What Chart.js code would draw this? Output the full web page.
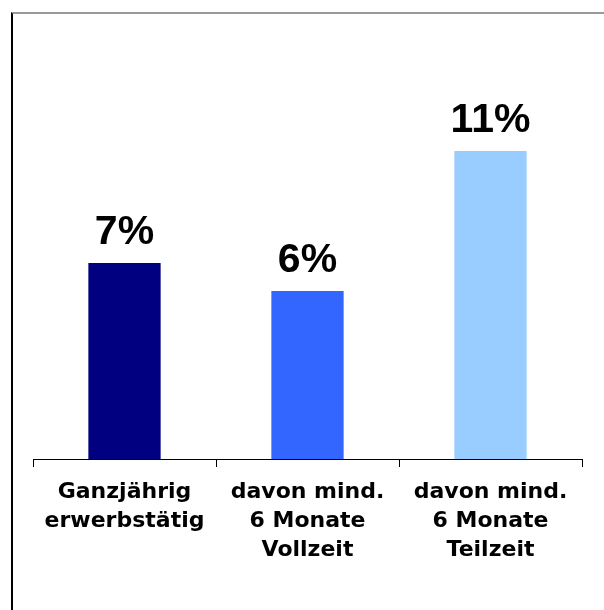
<!DOCTYPE html>
<html>
<head>
<meta charset="utf-8">
<script src="https://cdn.jsdelivr.net/npm/chart.js@4/dist/chart.umd.min.js"></script>
<style>
  body { margin: 0; background: #fff; }
  #wrap { position: relative; width: 604px; height: 610px; overflow: hidden; }
  #frame {
    position: absolute; left: 11px; top: 12px; width: 700px; height: 700px;
    border-top: 2px solid #999; border-left: 2px solid #000;
  }
  canvas { position: absolute; left: 0; top: 0; }
</style>
</head>
<body>
<div id="wrap">
  <div id="frame"></div>
  <canvas id="chart" width="604" height="610"></canvas>
</div>
<script>
const categories = [
  ["Ganzjährig", "erwerbstätig"],
  ["davon mind.", "6 Monate", "Vollzeit"],
  ["davon mind.", "6 Monate", "Teilzeit"],
];
const values = [7, 6, 11];
const valueLabels = ["7%", "6%", "11%"];
const barColors = ["#000080", "#3366FF", "#99CCFF"];

// draws the percent labels above the bars
const topLabels = {
  id: "topLabels",
  afterDatasetsDraw(chart) {
    const ctx = chart.ctx;
    const meta = chart.getDatasetMeta(0);
    ctx.save();
    ctx.font = "bold 41px 'Liberation Sans', Arial, sans-serif";
    ctx.fillStyle = "#000";
    ctx.textAlign = "center";
    ctx.textBaseline = "alphabetic";
    meta.data.forEach((bar, i) => {
      ctx.fillText(valueLabels[i], bar.x, bar.y - 19);
    });
    ctx.restore();
  },
};

new Chart(document.getElementById("chart"), {
  type: "bar",
  data: {
    labels: categories,
    datasets: [
      {
        data: values,
        backgroundColor: barColors,
        categoryPercentage: 1,
        barPercentage: 0.395,
      },
    ],
  },
  options: {
    responsive: false,
    animation: false,
    layout: { padding: { left: 33, right: 22, top: 11, bottom: 0 } },
    plugins: {
      legend: { display: false },
      tooltip: { enabled: false },
    },
    scales: {
      x: {
        afterFit: (s) => { s.height = 151; },
        border: { display: true, color: "#000", width: 1 },
        grid: {
          display: true,
          offset: true,
          drawOnChartArea: false,
          drawTicks: true,
          tickLength: 8,
          color: "#000",
        },
        ticks: {
          color: "#000",
          padding: 11,
          maxRotation: 0,
          font: { family: "'DejaVu Sans', sans-serif", weight: "bold", size: 22, lineHeight: "29px" },
        },
      },
      y: {
        display: false,
        min: 0,
        max: 16,
      },
    },
  },
  plugins: [topLabels],
});
</script>
</body>
</html>
